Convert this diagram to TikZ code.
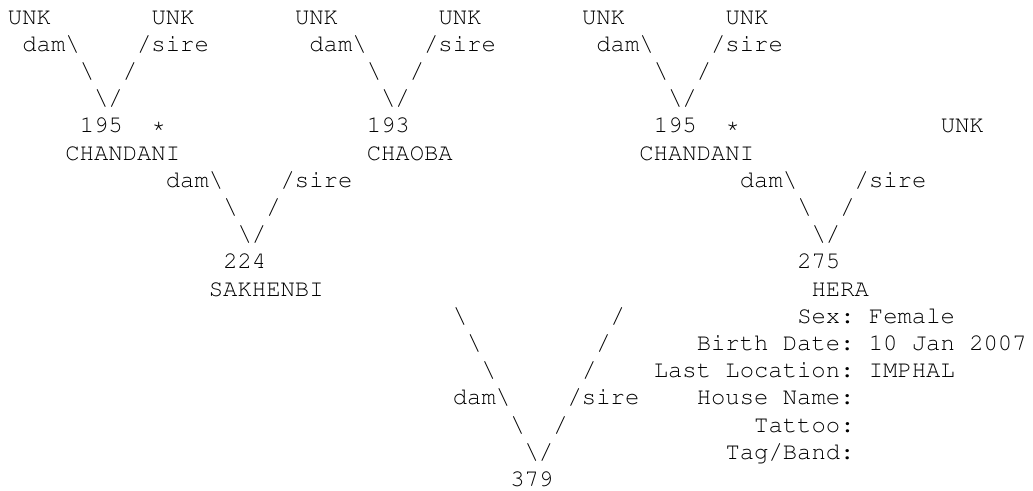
\documentclass[tikz,border=0pt]{standalone}
\usepackage[T1]{fontenc}
\usepackage{tikz}
\usepackage{xcolor}

\begin{document}
\frenchspacing
\begin{tikzpicture}[
  x=14.35pt, y=27.2pt,
  txt/.style={anchor=base west, inner sep=0pt, outer sep=0pt, font=\fontfamily{pcr}\fontsize{23.9}{27.2}\selectfont\frenchspacing},
]
  \useasboundingbox (-8pt,24pt) rectangle (1025pt,-466pt);

  % Top generation (unknown grandparents)
  \node[txt] (unkA) at (0,0) {UNK};
  \node[txt] (unkB) at (10,0) {UNK};
  \node[txt] (unkC) at (20,0) {UNK};
  \node[txt] (unkD) at (30,0) {UNK};
  \node[txt] (unkE) at (40,0) {UNK};
  \node[txt] (unkF) at (50,0) {UNK};

  \node[txt] (damA) at (1,-1) {dam\textbackslash};
  \node[txt] (sireA) at (9,-1) {/sire};
  \node[txt] (damB) at (21,-1) {dam\textbackslash};
  \node[txt] (sireB) at (29,-1) {/sire};
  \node[txt] (damC) at (41,-1) {dam\textbackslash};
  \node[txt] (sireC) at (49,-1) {/sire};

  \node[txt] (bsA) at (5,-2) {\textbackslash};
  \node[txt] (fsA) at (8,-2) {/};
  \node[txt] (bsB) at (25,-2) {\textbackslash};
  \node[txt] (fsB) at (28,-2) {/};
  \node[txt] (bsC) at (45,-2) {\textbackslash};
  \node[txt] (fsC) at (48,-2) {/};

  \node[txt] (tipA) at (6,-3) {\textbackslash/};
  \node[txt] (tipB) at (26,-3) {\textbackslash/};
  \node[txt] (tipC) at (46,-3) {\textbackslash/};

  % Second generation
  \node[txt] (idA) at (5,-4) {195};
  \node[txt] (starA) at (10,-4) {*};
  \node[txt] (idB) at (25,-4) {193};
  \node[txt] (idC) at (45,-4) {195};
  \node[txt] (starC) at (50,-4) {*};
  \node[txt] (unkG) at (65,-4) {UNK};

  \node[txt] (nameA) at (4,-5) {CHANDANI};
  \node[txt] (nameB) at (25,-5) {CHAOBA};
  \node[txt] (nameC) at (44,-5) {CHANDANI};

  \node[txt] (damD) at (11,-6) {dam\textbackslash};
  \node[txt] (sireD) at (19,-6) {/sire};
  \node[txt] (damE) at (51,-6) {dam\textbackslash};
  \node[txt] (sireE) at (59,-6) {/sire};

  \node[txt] (bsD) at (15,-7) {\textbackslash};
  \node[txt] (fsD) at (18,-7) {/};
  \node[txt] (bsE) at (55,-7) {\textbackslash};
  \node[txt] (fsE) at (58,-7) {/};

  \node[txt] (tipD) at (16,-8) {\textbackslash/};
  \node[txt] (tipE) at (56,-8) {\textbackslash/};

  % Parents
  \node[txt] (idD) at (15,-9) {224};
  \node[txt] (idE) at (55,-9) {275};
  \node[txt] (nameD) at (14,-10) {SAKHENBI};
  \node[txt] (nameE) at (56,-10) {HERA};

  % Long V down to the animal
  \node[txt] (bsF1) at (31,-11) {\textbackslash};
  \node[txt] (fsF1) at (42,-11) {/};
  \node[txt] (bsF2) at (32,-12) {\textbackslash};
  \node[txt] (fsF2) at (41,-12) {/};
  \node[txt] (bsF3) at (33,-13) {\textbackslash};
  \node[txt] (fsF3) at (40,-13) {/};
  \node[txt] (damF) at (31,-14) {dam\textbackslash};
  \node[txt] (sireF) at (39,-14) {/sire};
  \node[txt] (bsF4) at (35,-15) {\textbackslash};
  \node[txt] (fsF4) at (38,-15) {/};
  \node[txt] (tipF) at (36,-16) {\textbackslash/};
  \node[txt] (idF) at (35,-17) {379};

  % Details of 275
  \node[txt] (sex) at (55,-11) {Sex: Female};
  \node[txt] (birth) at (48,-12) {Birth Date: 10 Jan 2007};
  \node[txt] (loc) at (45,-13) {Last Location: IMPHAL};
  \node[txt] (house) at (48,-14) {House Name:};
  \node[txt] (tattoo) at (52,-15) {Tattoo:};
  \node[txt] (tag) at (50,-16) {Tag/Band:};
\end{tikzpicture}
\end{document}
